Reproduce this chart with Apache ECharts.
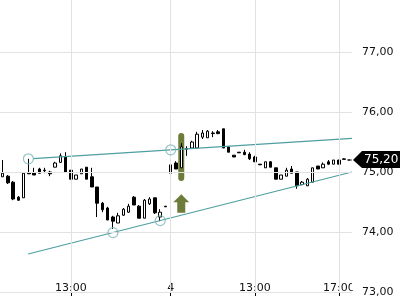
<!DOCTYPE html>
<html><head><meta charset="utf-8">
<script src="https://cdn.jsdelivr.net/npm/echarts@6/dist/echarts.min.js"></script>
<style>html,body{margin:0;padding:0;background:#fff}#c{width:400px;height:300px}</style>
</head><body><div id="c"></div>
<script>
const categories = [
 '3 09:45','3 10:00','3 10:15','3 10:30','3 10:45','3 11:00','3 11:15','3 11:30','3 11:45','3 12:00','3 12:15','3 12:30','3 12:45',
 '3 13:00','3 13:15','3 13:30','3 13:45','3 14:00','3 14:15','3 14:30','3 14:45','3 15:00','3 15:15','3 15:30','3 15:45',
 '3 16:00','3 16:15','3 16:30','3 16:45','3 17:00','3 17:15','3 17:30',
 '4 09:00','4 09:15','4 09:30','4 09:45','4 10:00','4 10:15','4 10:30','4 10:45','4 11:00','4 11:15','4 11:30','4 11:45',
 '4 12:00','4 12:15','4 12:30','4 12:45','4 13:00','4 13:15','4 13:30','4 13:45','4 14:00','4 14:15','4 14:30','4 14:45',
 '4 15:00','4 15:15','4 15:30','4 15:45','4 16:00','4 16:15','4 16:30','4 16:45','4 17:00','4 17:15','4 17:30'
];
const xTickCats = ['3 13:00','4 09:00','4 13:00','4 17:00'];
const xTickLabels = ['13:00','4','13:00','17:00'];
const yTicks = [73,74,75,76,77];

const opens = [74.92,74.93,74.83,74.58,74.57,74.99,74.99,75.05,75.03,75.00,75.08,75.16,75.25,75.03,74.88,74.97,75.08,74.92,74.75,74.48,74.40,74.25,74.15,74.28,74.33,74.58,74.43,74.23,74.47,74.57,74.25,74.43,
 74.98,75.15,75.07,75.39,75.40,75.40,75.58,75.57,75.65,75.67,75.72,75.42,75.28,75.33,75.33,75.30,75.25,75.13,75.07,75.17,75.07,74.88,74.93,75.05,75.00,74.79,74.77,74.83,75.10,75.07,75.17,75.13,75.20,75.21,75.20];
const closes = [74.98,74.82,74.55,74.53,74.98,74.97,74.95,74.98,75.02,74.97,75.15,75.27,75.00,74.88,74.95,75.05,74.88,74.75,74.48,74.37,74.20,74.18,74.27,74.38,74.43,74.45,74.23,74.53,74.55,74.32,74.33,74.42,
 75.12,75.05,75.42,75.38,75.50,75.63,75.65,75.68,75.64,75.64,75.40,75.33,75.25,75.32,75.29,75.22,75.17,75.12,75.17,75.08,74.88,74.95,75.03,74.98,74.77,74.83,74.88,75.07,75.05,75.13,75.13,75.20,75.13,75.22,75.20];
const lows = [74.92,74.80,74.53,74.52,74.57,74.97,74.95,74.98,74.98,74.93,75.08,75.15,75.00,74.88,74.88,74.97,74.88,74.75,74.25,74.33,74.20,74.05,74.15,74.27,74.32,74.45,74.23,74.23,74.45,74.30,74.18,74.42,
 74.93,75.05,75.07,75.27,75.40,75.40,75.55,75.57,75.58,75.63,75.40,75.33,75.25,75.32,75.28,75.20,75.17,75.12,75.07,75.08,74.88,74.88,74.93,74.98,74.72,74.78,74.77,74.83,75.05,75.07,75.12,75.13,75.13,75.21,75.20];
const highs = [75.20,74.95,74.85,74.60,75.00,75.22,75.07,75.07,75.07,75.02,75.17,75.31,75.33,75.03,74.95,75.05,75.08,75.07,74.75,74.50,74.42,74.27,74.32,74.40,74.47,74.60,74.45,74.55,74.58,74.57,74.38,74.43,
 75.37,75.18,75.48,75.43,75.52,75.67,75.70,75.70,75.68,75.70,75.72,75.43,75.28,75.33,75.37,75.33,75.27,75.13,75.17,75.18,75.07,74.95,75.07,75.10,75.00,74.85,74.90,75.07,75.10,75.16,75.20,75.20,75.20,75.23,75.20];

const upperLine = [[5.8,75.222],[66.5,75.56]];
const lowerLine = [[4.85,73.633],[66.5,75.0]];
const pivots = [[4.9,75.22],[32,75.37],[21,73.99],[30,74.19]];
const lastPrice = 75.20;
const signalCat = 34;
const signalBar = [74.85,75.65];
const signalArrow = [74.32,74.63];

const yMin = 73, yMax = 77.8667;
const TEAL = '#4f9ea1', OLIVE = '#6d7c3a', GRID = '#e2e2e2', FONT = 'DejaVu Sans';

const candleData = opens.map((o,i)=>[o, closes[i], lows[i], highs[i]]);
const chart = echarts.init(document.getElementById('c'), null, {renderer:'canvas'});
chart.setOption({
  animation:false,
  grid:{left:0,right:48,top:0,bottom:8,containLabel:false},
  xAxis:[{
    type:'category', data:categories, boundaryGap:true,
    axisLine:{show:false},
    axisTick:{show:true, alignWithLabel:true, length:4, lineStyle:{color:'#000'},
      interval:(i,v)=>xTickCats.includes(v)},
    axisLabel:{show:true, inside:true, margin:-2, fontFamily:FONT, fontSize:11, color:'#111',
      interval:(i,v)=>xTickCats.includes(v),
      formatter:v=>xTickLabels[xTickCats.indexOf(v)]},
    splitLine:{show:false}
  },{
    type:'value', min:-0.5, max:categories.length-0.5, show:false
  }],
  yAxis:{
    type:'value', position:'right', min:yMin, max:yMax,
    axisLine:{show:false},
    axisTick:{show:true, length:4, lineStyle:{color:'#000'}, customValues:yTicks},
    axisLabel:{margin:10, fontFamily:FONT, fontSize:11, color:'#111', customValues:yTicks,
      formatter:v=>v.toFixed(2).replace('.',',')},
    splitLine:{show:false}
  },
  series:[
    {type:'line', data:[], z:0, silent:true,
     markLine:{silent:true, symbol:'none', label:{show:false}, animation:false,
       lineStyle:{color:GRID, type:'solid', width:1},
       data:xTickCats.map(c=>({xAxis:c})).concat(yTicks.map(v=>({yAxis:v})))}},
    {type:'custom', z:1, silent:true, data:[[signalCat, signalBar[0], signalBar[1]]],
     renderItem:(p,api)=>{
       const a=api.coord([api.value(0),api.value(2)]), b=api.coord([api.value(0),api.value(1)]);
       return {type:'rect', shape:{x:a[0]-3,y:a[1],width:6,height:b[1]-a[1],r:3}, style:{fill:OLIVE}};
     }},
    {type:'candlestick', z:2, data:candleData, barWidth:3,
     itemStyle:{color:'#fff', color0:'#000', borderColor:'#000', borderColor0:'#000', borderWidth:1}},
    {type:'custom', z:3, silent:true, data:[[signalCat, signalArrow[0], signalArrow[1]]],
     renderItem:(p,api)=>{
       const t=api.coord([api.value(0),api.value(2)]), b=api.coord([api.value(0),api.value(1)]);
       const x=t[0];
       return {type:'polygon', shape:{points:[[x,t[1]],[x+8,t[1]+8],[x+4,t[1]+8],[x+4,b[1]],[x-4,b[1]],[x-4,t[1]+8],[x-8,t[1]+8]]},
         style:{fill:OLIVE}};
     }},
    {type:'line', xAxisIndex:1, data:upperLine, symbol:'none', z:4, lineStyle:{color:TEAL,width:1.2}},
    {type:'line', xAxisIndex:1, data:lowerLine, symbol:'none', z:4, lineStyle:{color:TEAL,width:1.2}},
    {type:'scatter', xAxisIndex:1, data:pivots, symbol:'circle', symbolSize:10, z:5,
     itemStyle:{color:'rgba(255,255,255,0)', borderColor:'#7db6b9', borderWidth:1.2}},
    {type:'line', xAxisIndex:1, data:[[categories.length-1.4,lastPrice],[categories.length-0.5,lastPrice]], symbol:'none', z:4,
     lineStyle:{color:'#000',width:1,type:[2,2]}}
  ]
});
const py = chart.convertToPixel({yAxisIndex:0}, lastPrice);
chart.setOption({graphic:[
  {type:'rect', z:50, shape:{x:352,y:278,width:9,height:12}, style:{fill:'#fff'}},
  {type:'polygon', z:60, shape:{points:[[353,py],[362,py-9],[400,py-9],[400,py+8],[362,py+8]]}, style:{fill:'#000'}},
  {type:'text', z:61, x:364, y:py, style:{text:lastPrice.toFixed(2).replace('.',','), fill:'#fff', font:'12px "DejaVu Sans"', verticalAlign:'middle'}}
]});
</script></body></html>
